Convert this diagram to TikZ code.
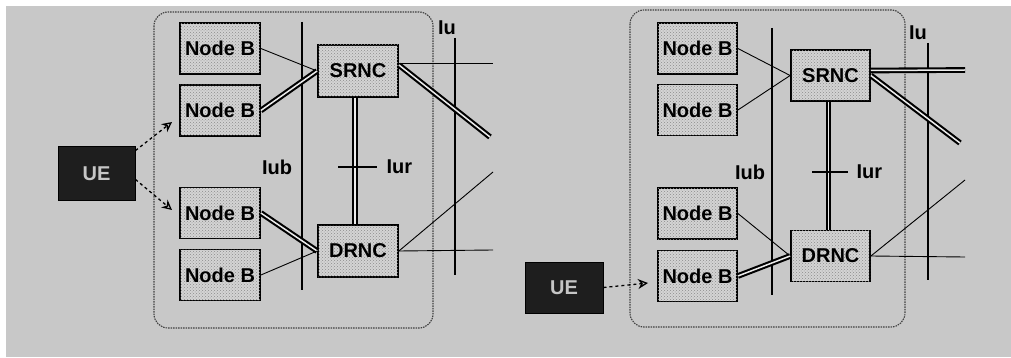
\documentclass[tikz,border=0pt]{standalone}
\usepackage{fontspec}
\setmainfont{Liberation Sans}
\usetikzlibrary{arrows.meta,patterns}
\definecolor{bg}{HTML}{C8C8C8}
\definecolor{boxfill}{HTML}{D4D4D4}
\definecolor{uefill}{HTML}{1E1E1E}
\begin{document}
\begin{tikzpicture}[x=1pt,y=-1pt,
  nb/.style={draw=black, line width=1.8pt, fill=boxfill,
    postaction={pattern=crosshatch dots, pattern color=gray!90},
    minimum width=80pt, minimum height=51pt, inner sep=0pt,
    font=\fontsize{20}{22}\selectfont\bfseries},
  uebox/.style={draw=black, line width=1pt, fill=uefill,
    minimum width=77pt, minimum height=53pt, inner sep=0pt,
    font=\fontsize{20}{22}\selectfont\bfseries, text=gray!45},
  thinline/.style={line width=0.9pt},
  dbl/.style={line width=2.1pt, double=gray!15, double distance=1.5pt},
  gridline/.style={line width=1.3pt},
  region/.style={draw=black!75, dash pattern=on 1.5pt off 1pt, line width=1.1pt, rounded corners=14pt},
  lbl/.style={font=\fontsize{20}{22}\selectfont\bfseries},
  radio/.style={dashed, line width=1.3pt, -{Stealth[open,length=10pt,width=10pt]}}
]
\useasboundingbox (0,0) rectangle (1011,358);
\fill[white] (0,0) rectangle (1011,358);
\fill[bg] (6,6) rectangle (1011,357);

% ---------------- left panel ----------------
\draw[region] (154,12) rectangle (433,328);
\draw[gridline] (302,22) -- (302,290);
\draw[gridline] (455,38) -- (455,275);

\node[nb] (lb1) at (220,48.5) {Node B};
\node[nb] (lb2) at (220,110.5) {Node B};
\node[nb] (lb3) at (220,213) {Node B};
\node[nb] (lb4) at (220,275) {Node B};
\node[nb, minimum height=52pt] (ls) at (358,71) {SRNC};
\node[nb, minimum height=52pt] (ld) at (358,251) {DRNC};
\node[uebox] (lue) at (96.5,173.5) {UE};

\draw[thinline] (lb1.east) -- (ls.west);
\draw[dbl] (lb2.east) -- (ls.west);
\draw[dbl] (lb3.east) -- (ld.west);
\draw[thinline] (lb4.east) -- (ld.west);
\draw[dbl] ([xshift=-3pt]ls.south) -- ([xshift=-3pt]ld.north);

\coordinate (lc1) at (493,63);
\coordinate (lc2) at (490,137);
\coordinate (lc3) at (493,250);
\coordinate (lc4) at (493,172);
\draw[thinline] ([yshift=8pt]ls.east) -- (lc1);
\draw[dbl] ([yshift=6pt]ls.east) -- (lc2);
\draw[thinline] (ld.east) -- (lc3);
\draw[thinline] (ld.east) -- (lc4);

\draw[gridline] (338,167) -- (377,167);
\node[lbl] (liub) at (277,167) {Iub};
\node[lbl, anchor=west] (liur) at (383,167) {Iur};
\node[lbl] (liu) at (447,28) {Iu};

\coordinate (la1) at (172,122);
\coordinate (la2) at (172,210);
\draw[radio] ([yshift=23pt]lue.east) -- (la1);
\draw[radio] ([yshift=-6pt]lue.east) -- (la2);

% ---------------- right panel ----------------
\draw[region] (630,10) rectangle (905,327);
\draw[gridline] (772,28) -- (772,295);
\draw[gridline] (928,43) -- (928,280);

\node[nb, minimum width=79pt] (rb1) at (697.5,48.5) {Node B};
\node[nb, minimum width=79pt] (rb2) at (697.5,110) {Node B};
\node[nb, minimum width=79pt] (rb3) at (697.5,213.5) {Node B};
\node[nb, minimum width=79pt] (rb4) at (697.5,276) {Node B};
\node[nb, minimum width=79pt] (rs) at (830.5,75.5) {SRNC};
\node[nb, minimum width=79pt] (rd) at (830.5,256) {DRNC};
\node[uebox, minimum width=78pt, minimum height=51pt] (rue) at (564,287.5) {UE};

\draw[thinline] (rb1.east) -- (rs.west);
\draw[thinline] (rb2.east) -- (rs.west);
\draw[thinline] (rb3.east) -- (rd.west);
\draw[dbl] (rb4.east) -- (rd.west);
\draw[dbl] ([xshift=-2pt]rs.south) -- ([xshift=-2pt]rd.north);

\coordinate (rc1) at (965,70);
\coordinate (rc2) at (960,143);
\coordinate (rc3) at (965,257);
\coordinate (rc4) at (965,180);
\draw[dbl] ([yshift=5pt]rs.east) -- (rc1);
\draw[dbl] (rs.east) -- (rc2);
\draw[thinline] (rd.east) -- (rc3);
\draw[thinline] (rd.east) -- (rc4);

\draw[gridline] (812,172) -- (848,172);
\node[lbl] (riub) at (750,172) {Iub};
\node[lbl, anchor=west] (riur) at (853,172) {Iur};
\node[lbl] (riu) at (918,33) {Iu};

\coordinate (ra1) at (648,283);
\draw[radio] (rue.east) -- (ra1);
\end{tikzpicture}
\end{document}
